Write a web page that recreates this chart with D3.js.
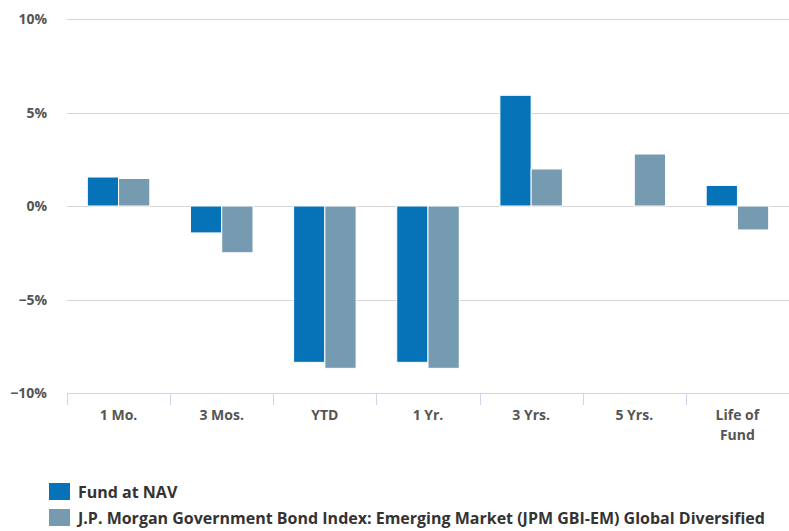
<!DOCTYPE html>
<html>
<head>
<meta charset="utf-8">
<script src="https://cdn.jsdelivr.net/npm/d3@7"></script>
<style>
  html, body { margin: 0; padding: 0; background: #fff; }
  #chart { width: 789px; height: 531px; }
</style>
</head>
<body>
<div id="chart"></div>
<script>
// Chart data
const categories = ['1 Mo.', '3 Mos.', 'YTD', '1 Yr.', '3 Yrs.', '5 Yrs.', 'Life of Fund'];
const seriesNames = [
  'Fund at NAV',
  'J.P. Morgan Government Bond Index: Emerging Market (JPM GBI-EM) Global Diversified'
];
const fundValues = [1.55, -1.44, -8.36, -8.36, 5.92, null, 1.10];
const indexValues = [1.47, -2.50, -8.68, -8.68, 1.98, 2.78, -1.28];
const yTicks = [-10, -5, 0, 5, 10];
const colors = ['#0673b9', '#769aaf'];

const W = 789, H = 531;
const plotLeft = 67, plotRight = 789, plotTop = 19, plotBottom = 393;
const labelFont = '"Open Sans", "DejaVu Sans", sans-serif';

const svg = d3.select('#chart')
  .append('svg')
  .attr('width', W)
  .attr('height', H)
  .style('display', 'block');

const y = d3.scaleLinear().domain([-10, 10]).range([plotBottom, plotTop]);
const x0 = d3.scaleBand().domain(categories).range([plotLeft, plotRight]).paddingInner(0);
const x1 = d3.scaleBand().domain([0, 1]).range([0, x0.bandwidth()])
  .paddingInner(0).paddingOuter(0.65);

// Grid lines
svg.append('g')
  .selectAll('line')
  .data(yTicks.filter(t => t !== -10))
  .join('line')
  .attr('x1', plotLeft).attr('x2', plotRight)
  .attr('y1', d => Math.round(y(d)) + 0.5)
  .attr('y2', d => Math.round(y(d)) + 0.5)
  .attr('stroke', '#d6d6d6')
  .attr('stroke-width', 1);

// Y labels
svg.append('g')
  .selectAll('text')
  .data(yTicks)
  .join('text')
  .attr('x', 47)
  .attr('y', d => y(d) + 5)
  .attr('text-anchor', 'end')
  .attr('fill', '#555')
  .attr('font-family', labelFont)
  .attr('font-size', '14px')
  .attr('font-weight', 'bold')
  .text(d => (d < 0 ? '\u2212' + Math.abs(d) : d) + '%');

// Bars
const rows = categories.map((c, i) => ({ cat: c, vals: [fundValues[i], indexValues[i]] }));
const groups = svg.append('g')
  .selectAll('g')
  .data(rows)
  .join('g')
  .attr('transform', d => `translate(${x0(d.cat)},0)`);

groups.selectAll('rect')
  .data(d => d.vals.map((v, k) => ({ v, k })).filter(e => e.v !== null))
  .join('rect')
  .attr('x', e => x1(e.k))
  .attr('width', x1.bandwidth())
  .attr('y', e => y(Math.max(0, e.v)))
  .attr('height', e => Math.abs(y(e.v) - y(0)))
  .attr('fill', e => colors[e.k])
  .attr('stroke', '#fff')
  .attr('stroke-width', 1);

// X axis line + ticks
svg.append('line')
  .attr('x1', plotLeft).attr('x2', plotRight)
  .attr('y1', plotBottom + 0.5).attr('y2', plotBottom + 0.5)
  .attr('stroke', '#ccd6eb');

svg.append('g')
  .selectAll('line')
  .data(categories)
  .join('line')
  .attr('x1', d => Math.round(x0(d)) + 0.5)
  .attr('x2', d => Math.round(x0(d)) + 0.5)
  .attr('y1', plotBottom).attr('y2', plotBottom + 12)
  .attr('stroke', '#ccd6eb');

// Category labels
const catLabels = svg.append('g')
  .selectAll('text')
  .data(categories)
  .join('text')
  .attr('x', d => x0(d) + x0.bandwidth() / 2)
  .attr('y', 420)
  .attr('text-anchor', 'middle')
  .attr('fill', '#555')
  .attr('font-family', labelFont)
  .attr('font-size', '14px')
  .attr('font-weight', 'bold');

catLabels.each(function (d) {
  const words = d === 'Life of Fund' ? ['Life of', 'Fund'] : [d];
  d3.select(this).selectAll('tspan')
    .data(words)
    .join('tspan')
    .attr('x', x0(d) + x0.bandwidth() / 2)
    .attr('dy', (w, i) => i === 0 ? 0 : 20)
    .text(w => w);
});

// Legend
const legend = svg.append('g')
  .selectAll('g')
  .data(seriesNames)
  .join('g')
  .attr('transform', (d, i) => `translate(49, ${483 + i * 26})`);

legend.append('rect')
  .attr('width', 21).attr('height', 17)
  .attr('fill', (d, i) => colors[i]);

legend.append('text')
  .attr('x', 29)
  .attr('y', 15)
  .attr('fill', '#333')
  .attr('font-family', labelFont)
  .attr('font-size', '16px')
  .attr('font-weight', 'bold')
  .text(d => d);
</script>
</body>
</html>
